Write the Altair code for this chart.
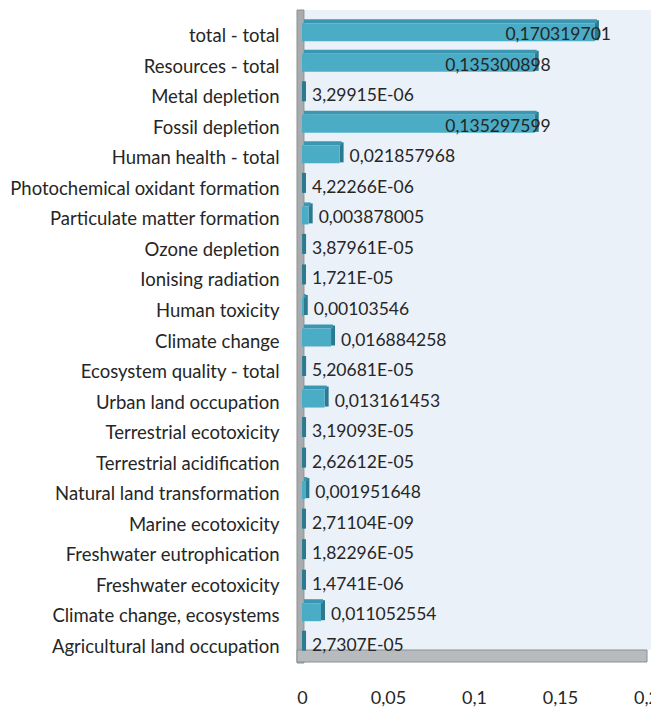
import altair as alt
import pandas as pd

# Impact categories, top to bottom, and their scores as printed (decimal comma)
categories = [
    "total - total",
    "Resources - total",
    "Metal depletion",
    "Fossil depletion",
    "Human health - total",
    "Photochemical oxidant formation",
    "Particulate matter formation",
    "Ozone depletion",
    "Ionising radiation",
    "Human toxicity",
    "Climate change",
    "Ecosystem quality - total",
    "Urban land occupation",
    "Terrestrial ecotoxicity",
    "Terrestrial acidification",
    "Natural land transformation",
    "Marine ecotoxicity",
    "Freshwater eutrophication",
    "Freshwater ecotoxicity",
    "Climate change, ecosystems",
    "Agricultural land occupation",
]
score_labels = [
    "0,170319701",
    "0,135300898",
    "3,29915E-06",
    "0,135297599",
    "0,021857968",
    "4,22266E-06",
    "0,003878005",
    "3,87961E-05",
    "1,721E-05",
    "0,00103546",
    "0,016884258",
    "5,20681E-05",
    "0,013161453",
    "3,19093E-05",
    "2,62612E-05",
    "0,001951648",
    "2,71104E-09",
    "1,82296E-05",
    "1,4741E-06",
    "0,011052554",
    "2,7307E-05",
]
axis_ticks = [0, 0.05, 0.1, 0.15, 0.2]

scores = [float(s.replace(",", ".")) for s in score_labels]
df = pd.DataFrame({"category": categories, "score": scores, "label": score_labels})
one = pd.DataFrame({"k": [0]})

FONT = "Lato"
FRONT = "#4bacc6"
TOP = "#3b97b1"
SIDE = "#2c7a90"
TEXT = "#262626"

W, H = 344, 641

x_scale = alt.Scale(domain=[0, 0.2], nice=False, zero=True)
y_scale = alt.Scale(domain=categories, paddingInner=0, paddingOuter=0)

x_enc = alt.X(
    "score:Q",
    scale=x_scale,
    title=None,
    axis=alt.Axis(
        values=axis_ticks,
        labelExpr="replace(format(datum.value, '~g'), '.', ',')",
        domain=False,
        ticks=False,
        grid=False,
        labelFlush=False,
        labelFont=FONT,
        labelFontSize=18,
        labelColor=TEXT,
        labelPadding=27,
    ),
)
y_enc = alt.Y(
    "category:N",
    scale=y_scale,
    sort=categories,
    title=None,
    axis=alt.Axis(
        domain=False,
        ticks=False,
        grid=False,
        labelFont=FONT,
        labelFontSize=18.5,
        labelColor=TEXT,
        labelPadding=23,
        labelLimit=400,
    ),
)

# plot wall, back panel and floor of the 3-D frame
back = alt.Chart(one).mark_rect(color="#ebf1f9").encode(
    x=alt.value(3), x2=alt.value(360), y=alt.value(-11), y2=alt.value(629)
)
wall = alt.Chart(one).mark_rect(color="#a9acae", stroke="#8c8f91", strokeWidth=1).encode(
    x=alt.value(-5), x2=alt.value(2), y=alt.value(-11), y2=alt.value(642)
)
floor = alt.Chart(one).mark_rect(color="#b8bbbd", stroke="#8c8f91", strokeWidth=1).encode(
    x=alt.value(-5), x2=alt.value(345), y=alt.value(629), y2=alt.value(641)
)

# 3-D bars: side face, top face, then the front face
side = alt.Chart(df).mark_bar(color=SIDE, size=20, yOffset=-6, x2Offset=4).encode(
    x=x_enc, x2="score:Q", y=y_enc
)
top = alt.Chart(df).mark_bar(color=TOP, size=4, yOffset=-15, xOffset=2, x2Offset=2).encode(
    x=x_enc, y=y_enc
)
front = alt.Chart(df).mark_bar(color=FRONT, size=18, yOffset=-4).encode(
    x=x_enc, y=y_enc
)

small = alt.Chart(df).transform_filter("datum.score < 0.1").mark_text(
    align="left", baseline="middle", dx=10, dy=-1, font=FONT, fontSize=17.5, color=TEXT
).encode(x=x_enc, y=y_enc, text="label:N")
large = alt.Chart(df).transform_filter("datum.score >= 0.1").mark_text(
    align="right", baseline="middle", dx=16, dy=-1, font=FONT, fontSize=17.5, color=TEXT
).encode(x=x_enc, y=y_enc, text="label:N")

chart = (
    alt.layer(back, wall, floor, side, top, front, small, large)
    .properties(
        width=W,
        height=H,
        autosize=alt.AutoSizeParams(type="none"),
        padding={"left": 302, "top": 21, "right": 5, "bottom": 45},
        background="white",
    )
    .configure_view(stroke=None)
)

chart.save("out.html", embed_options={"renderer": "svg", "actions": False})
